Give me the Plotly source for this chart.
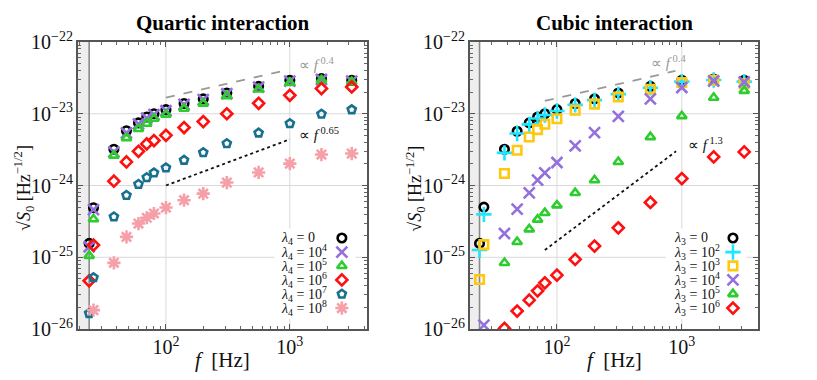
import math
import plotly.graph_objects as go

# ===============================
# DATA
# ===============================
FREQ = [24, 26, 38, 48, 60, 70, 80, 100, 140, 200, 310, 560, 1000, 1800, 3160]

# quartic interaction, lambda_4
Q_L0 = [1.56e-25, 4.9e-25, 3.2e-24, 5.8e-24, 7.45e-24, 9.0e-24, 1.0e-23, 1.14e-23, 1.39e-23, 1.61e-23, 1.95e-23, 2.41e-23, 2.93e-23, 3.09e-23, 2.93e-23]
Q_L4 = [1.4e-25, 4.6e-25, 2.94e-24, 5.4e-24, 7.2e-24, 8.7e-24, 9.7e-24, 1.1e-23, 1.35e-23, 1.57e-23, 1.9e-23, 2.35e-23, 2.85e-23, 3.0e-23, 2.85e-23]
Q_L5 = [1.05e-25, 3.4e-25, 2.62e-24, 4.6e-24, 6.15e-24, 7.3e-24, 8.57e-24, 9.75e-24, 1.18e-23, 1.39e-23, 1.77e-23, 2.19e-23, 2.69e-23, 2.93e-23, 2.77e-23]
Q_L6 = [4.7e-26, 1.48e-25, 1.15e-24, 2.13e-24, 3.0e-24, 3.8e-24, 4.23e-24, 5.0e-24, 6.43e-24, 7.78e-24, 1.0e-23, 1.4e-23, 1.81e-23, 2.24e-23, 2.36e-23]
Q_L7 = [1.65e-26, 5.2e-26, 3.66e-25, 7.3e-25, 1.04e-24, 1.29e-24, 1.5e-24, 1.76e-24, 2.25e-24, 2.88e-24, 3.85e-24, 5.4e-24, 7.3e-24, 9.9e-24, 1.14e-23]
Q_L8 = [None, 1.83e-26, 8.36e-26, 1.92e-25, 2.95e-25, 3.55e-25, 4.07e-25, 4.93e-25, 6.24e-25, 7.7e-25, 1.1e-24, 1.52e-24, 2.02e-24, 2.7e-24, 2.79e-24]

# cubic interaction, lambda_3
C_L0 = [1.56e-25, 5.0e-25, 3.2e-24, 5.7e-24, 7.45e-24, 9.0e-24, 1.0e-23, 1.14e-23, 1.39e-23, 1.61e-23, 1.95e-23, 2.41e-23, 2.93e-23, 3.05e-23, 2.93e-23]
C_L2 = [1.26e-25, 3.96e-25, 2.85e-24, 5.3e-24, 7.1e-24, 8.6e-24, 9.6e-24, 1.09e-23, 1.33e-23, 1.55e-23, 1.88e-23, 2.3e-23, 2.8e-23, 2.95e-23, 2.8e-23]
C_L3 = [4.9e-26, 1.5e-25, 1.47e-24, 3.1e-24, 4.75e-24, 6.0e-24, 7.15e-24, 8.5e-24, 1.12e-23, 1.36e-23, 1.71e-23, 2.19e-23, 2.72e-23, 2.93e-23, 2.63e-23]
C_L4 = [None, 1.13e-26, 2.14e-25, 4.68e-25, 7.9e-25, 1.19e-24, 1.5e-24, 2.09e-24, 3.56e-24, 5.47e-24, 9.2e-24, 1.61e-23, 2.32e-23, 2.86e-23, 2.77e-23]
C_L5 = [None, None, 8.36e-26, 1.64e-25, 2.46e-25, 3.36e-25, 4.15e-25, 5.3e-25, 7.9e-25, 1.19e-24, 2.13e-24, 4.75e-24, 9.3e-24, 1.68e-23, 2.09e-23]
C_L6 = [None, None, 1.02e-26, 1.78e-26, 2.52e-26, 3.4e-26, 4.4e-26, 5.63e-26, 9.33e-26, 1.43e-25, 2.57e-25, 5.8e-25, 1.25e-24, 2.5e-24, 2.94e-24]

Q_LABELS = ["0", "10<sup>4</sup>", "10<sup>5</sup>", "10<sup>6</sup>", "10<sup>7</sup>", "10<sup>8</sup>"]
C_LABELS = ["0", "10<sup>2</sup>", "10<sup>3</sup>", "10<sup>4</sup>", "10<sup>5</sup>", "10<sup>6</sup>"]

# guide lines
Q_DASH_F = [100, 980]
Q_DASH_S = [1.68e-23, 4.12e-23]
Q_DOT_F = [100, 1000]
Q_DOT_S = [1.0e-24, 4.4e-24]
C_DASH_F = [80, 890]
C_DASH_S = [1.51e-23, 3.95e-23]
C_DOT_F = [80, 900]
C_DOT_S = [1.26e-25, 3.0e-24]

F_CUT = 24  # shaded band edge
GRID_F = [100, 1000]
GRID_S = [1e-25, 1e-24, 1e-23]

# ===============================
# STYLES
# ===============================
SERIF = "Liberation Serif"
Q_STYLE = [
    ("circle-open", "#000000"),
    ("x-thin-open", "#9370DB"),
    ("triangle-up-open", "#2ecc2e"),
    ("diamond-open", "#ff1010"),
    ("pentagon-open", "#18708f"),
    ("asterisk-open", "#f5a0a8"),
]
C_STYLE = [
    ("circle-open", "#000000"),
    ("cross-thin-open", "#1fe6ff"),
    ("square-open", "#ffc810"),
    ("x-thin-open", "#9370DB"),
    ("triangle-up-open", "#2ecc2e"),
    ("diamond-open", "#ff1010"),
]


def marker(sym, col):
    size = 11 if "thin" in sym or "asterisk" in sym else 8.5
    return dict(symbol=sym, color=col, size=size, line=dict(width=2.6, color=col))


fig = go.Figure()


def add_panel(series, styles, xa, ya):
    for vals, (sym, col) in zip(series, styles):
        fig.add_trace(go.Scatter(
            x=FREQ, y=vals, mode="markers", marker=marker(sym, col),
            xaxis=xa, yaxis=ya, showlegend=False
        ))


add_panel([Q_L0, Q_L4, Q_L5, Q_L6, Q_L7, Q_L8], Q_STYLE, "x", "y")
add_panel([C_L0, C_L2, C_L3, C_L4, C_L5, C_L6], C_STYLE, "x2", "y2")

# guide lines
for xs, ys, xa, ya, dash, col in [
    (Q_DASH_F, Q_DASH_S, "x", "y", "dash", "#999999"),
    (Q_DOT_F, Q_DOT_S, "x", "y", "dot", "#111111"),
    (C_DASH_F, C_DASH_S, "x2", "y2", "dash", "#999999"),
    (C_DOT_F, C_DOT_S, "x2", "y2", "dot", "#111111"),
]:
    fig.add_trace(go.Scatter(x=xs, y=ys, mode="lines", xaxis=xa, yaxis=ya,
                             line=dict(dash=dash, color=col, width=1.8),
                             showlegend=False))

# legend keys (markers on the right of the text, as in the reference)
ROW_Y = [0.317, 0.268, 0.22, 0.171, 0.122, 0.073]
for styles, labels, sub, xa, ya, xdom, tx in [
    (Q_STYLE, Q_LABELS, "4", "x3", "y3", "x domain", 0.695),
    (C_STYLE, C_LABELS, "3", "x4", "y4", "x2 domain", 0.70),
]:
    for i, ((sym, col), lab) in enumerate(zip(styles, labels)):
        fig.add_trace(go.Scatter(x=[0.913], y=[ROW_Y[i]], mode="markers",
                                 marker=marker(sym, col), xaxis=xa, yaxis=ya,
                                 showlegend=False, hoverinfo="skip"))
        fig.add_annotation(
            xref=xdom, yref=xdom.replace("x", "y"), x=tx, y=ROW_Y[i],
            xanchor="left", yanchor="middle", showarrow=False,
            text=f"<i>λ</i><sub>{sub}</sub> = {lab}",
            font=dict(family=SERIF, size=14, color="#111"))

# ===============================
# AXES
# ===============================
L_DOM = [0.0, 0.425]
R_DOM = [0.5765, 1.0]

tick_font = dict(family=SERIF, size=16, color="#111")


def log_axis(domain, rng, anchor):
    return dict(
        type="log", domain=domain, range=rng, anchor=anchor, dtick=1,
        exponentformat="power", showgrid=False,
        ticks="inside", ticklen=5, tickcolor="#555", tickwidth=1,
        showline=True, linecolor="#555", linewidth=1.6, mirror="allticks",
        minor=dict(ticks="inside", ticklen=3, tickcolor="#666", showgrid=False),
        tickfont=tick_font, zeroline=False,
    )


def hidden_axis(domain, anchor, over):
    return dict(domain=domain, range=[0, 1], anchor=anchor, visible=False,
                overlaying=over, fixedrange=True)


# the page body adds an 8px offset, so the figure is 8px smaller each way
fig.update_layout(
    width=809, height=372,
    margin=dict(l=70, r=59, t=34, b=51),
    plot_bgcolor="white", paper_bgcolor="white",
    showlegend=False,
    xaxis=log_axis(L_DOM, [1.29, 3.623], "y"),
    yaxis=log_axis([0, 1], [-26, -22], "x"),
    xaxis2=log_axis(R_DOM, [1.304, 3.61], "y2"),
    yaxis2=log_axis([0, 1], [-26, -22], "x2"),
    xaxis3=hidden_axis(L_DOM, "y3", "x"),
    yaxis3=hidden_axis([0, 1], "x3", "y"),
    xaxis4=hidden_axis(R_DOM, "y4", "x2"),
    yaxis4=hidden_axis([0, 1], "x4", "y2"),
)

# shaded band, grid lines, edge line and legend boxes (all under the data)
for xref, yref, xd, yd in [("x", "y", "x domain", "y domain"),
                           ("x2", "y2", "x2 domain", "y2 domain")]:
    fig.add_shape(type="rect", xref=xref, yref=yd, x0=10, x1=F_CUT, y0=0, y1=1,
                  line_width=0, fillcolor="#eeeeee", layer="below")
    for g in GRID_F:
        fig.add_shape(type="line", xref=xref, yref=yd, x0=g, x1=g, y0=0, y1=1,
                      line=dict(color="#d9d9d9", width=1), layer="below")
    for g in GRID_S:
        fig.add_shape(type="line", xref=xd, yref=yref, x0=0, x1=1, y0=g, y1=g,
                      line=dict(color="#d9d9d9", width=1), layer="below")
    fig.add_shape(type="line", xref=xref, yref=yd, x0=F_CUT, x1=F_CUT, y0=0, y1=1,
                  line=dict(color="#8a8a8a", width=1.6), layer="below")
    fig.add_shape(type="rect", xref=xd, yref=yd, x0=0.68, x1=0.96, y0=0.035, y1=0.35,
                  line_width=0, fillcolor="white", layer="below")

# ===============================
# TEXT
# ===============================
for xc, title in [(sum(L_DOM) / 2, "Quartic interaction"), (sum(R_DOM) / 2, "Cubic interaction")]:
    fig.add_annotation(xref="paper", yref="paper", x=xc, y=1.066, showarrow=False,
                       xanchor="center", yanchor="middle", text=f"<b>{title}</b>",
                       font=dict(family=SERIF, size=21, color="#000"))
    fig.add_annotation(xref="paper", yref="paper", x=xc, y=-0.108, showarrow=False,
                       xanchor="center", yanchor="middle", text="<i>f</i>  [Hz]",
                       font=dict(family=SERIF, size=21, color="#111"))

for xp in [-0.08, 0.496]:
    fig.add_annotation(xref="paper", yref="paper", x=xp, y=0.49, showarrow=False,
                       textangle=-90, xanchor="center", yanchor="middle",
                       text="√<i>S</i><sub>0</sub> [Hz<sup>−1/2</sup>]",
                       font=dict(family=SERIF, size=18, color="#111"))

# power-law labels
for xa, ya, x, y, txt, col in [
    ("x", "y", 1140, 5.0e-23, "∝ <i>f</i><sup> 0.4</sup>", "#999999"),
    ("x", "y", 1140, 5.2e-24, "∝ <i>f</i><sup> 0.65</sup>", "#111111"),
    ("x2", "y2", 550, 5.3e-23, "∝ <i>f</i><sup> 0.4</sup>", "#999999"),
    ("x2", "y2", 1080, 3.8e-24, "∝ <i>f</i><sup> 1.3</sup>", "#111111"),
]:
    fig.add_annotation(xref=xa, yref=ya, x=math.log10(x), y=math.log10(y),
                       showarrow=False, xanchor="left", yanchor="middle", text=txt,
                       font=dict(family=SERIF, size=15, color=col))

fig.write_html("out.html")
